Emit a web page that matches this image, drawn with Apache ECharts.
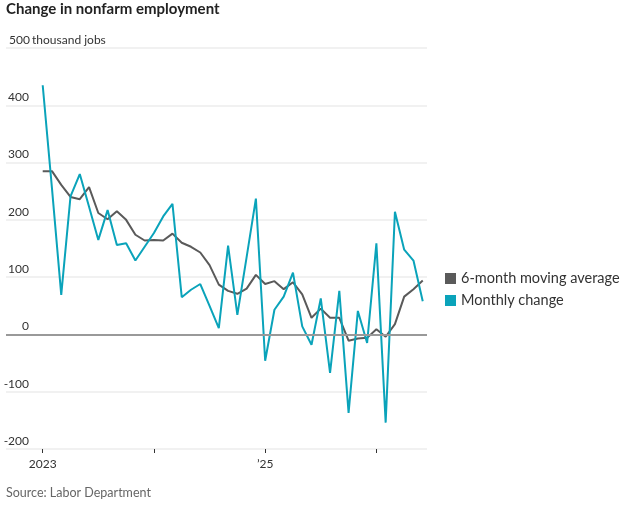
<!DOCTYPE html>
<html>
<head>
<meta charset="utf-8">
<script src="https://cdn.jsdelivr.net/npm/echarts@6/dist/echarts.min.js"></script>
<style>
  html, body { margin: 0; padding: 0; background: #fff; }
  #chart { width: 632px; height: 510px; }
</style>
</head>
<body>
<div id="chart"></div>
<script>
// month index 0 = Jan 2023
var monthly = [435, 255, 69, 241, 280, 223, 165, 217, 156, 159, 129, 153,
  177, 206, 228, 65, 78, 88, 50, 11, 155, 34, 135, 237,
  -46, 43, 66, 108, 14, -18, 63, -67, 76, -137, 41, -15,
  159, -154, 214, 148, 129, 58];
var movingAvg = [285, 285, 261, 240, 236, 257, 212, 201, 215, 200, 174, 164,
  165, 164, 176, 160, 153, 143, 121, 87, 76, 71, 80, 104,
  88, 93, 79, 91, 70, 29, 45, 29, 29, -11, -7, -6,
  9, -4, 18, 66, 79, 94];
var yTicks = [-200, -100, 0, 100, 200, 300, 400, 500];
var xTickValues = [0, 12, 24, 36];
var xLabelValues = [0, 24];
var xLabelText = { 0: '2023', 24: '\u201925' };

var FONT = 'Lato';
var chart = echarts.init(document.getElementById('chart'));

function toPairs(arr) {
  return arr.map(function (v, i) { return [i, v]; });
}

chart.setOption({
  animation: false,
  textStyle: { fontFamily: FONT },
  title: {
    text: 'Change in nonfarm employment',
    left: 6,
    top: 2,
    padding: 0,
    textStyle: { fontFamily: FONT, fontSize: 15, fontWeight: 'bold', color: '#222' }
  },
  legend: {
    data: ['6-month moving average', 'Monthly change'],
    orient: 'vertical',
    left: 440,
    top: 266,
    icon: 'rect',
    itemWidth: 11,
    itemHeight: 11,
    itemGap: 7,
    textStyle: { fontFamily: FONT, fontSize: 14.5, color: '#333' }
  },
  grid: { left: 6, right: 205, top: 48, bottom: 61 },
  xAxis: {
    type: 'value',
    min: -3.96,
    max: 41.46,
    splitLine: { show: false },
    axisLine: { show: false, onZero: false },
    axisTick: {
      show: true,
      customValues: xTickValues,
      length: 4,
      lineStyle: { color: '#333', width: 1 }
    },
    axisLabel: {
      customValues: xLabelValues,
      formatter: function (v) { return xLabelText[v] || ''; },
      color: '#333',
      fontSize: 12,
      margin: 9
    }
  },
  yAxis: {
    type: 'value',
    min: yTicks[0],
    max: yTicks[yTicks.length - 1],
    interval: 100,
    axisLine: { show: false },
    axisTick: { show: false },
    splitLine: { show: true, lineStyle: { color: '#ececec', width: 1.5 } },
    axisLabel: {
      inside: true,
      align: 'left',
      verticalAlign: 'bottom',
      margin: 4,
      padding: [0, 0, 2, 0],
      color: '#333',
      fontSize: 12,
      formatter: function (v) {
        return v === 500 ? '{n|500} thousand jobs' : '{n|' + v + '}';
      },
      rich: {
        n: { width: 19, align: 'right', fontSize: 12, color: '#333', fontFamily: FONT }
      }
    }
  },
  series: [
    {
      name: '6-month moving average',
      type: 'line',
      data: toPairs(movingAvg),
      symbol: 'none',
      color: '#5a5a5a',
      lineStyle: { width: 2, color: '#5a5a5a' },
      markLine: {
        silent: true,
        symbol: 'none',
        label: { show: false },
        lineStyle: { color: '#999', width: 2, type: 'solid' },
        data: [{ yAxis: 0 }]
      },
      z: 2
    },
    {
      name: 'Monthly change',
      type: 'line',
      data: toPairs(monthly),
      symbol: 'none',
      color: '#0aa3ba',
      lineStyle: { width: 2, color: '#0aa3ba' },
      z: 3
    }
  ],
  graphic: [
    {
      type: 'text',
      left: 6,
      top: 486,
      style: { text: 'Source: Labor Department', font: '12.5px ' + FONT, fill: '#666' }
    }
  ]
});
</script>
</body>
</html>
